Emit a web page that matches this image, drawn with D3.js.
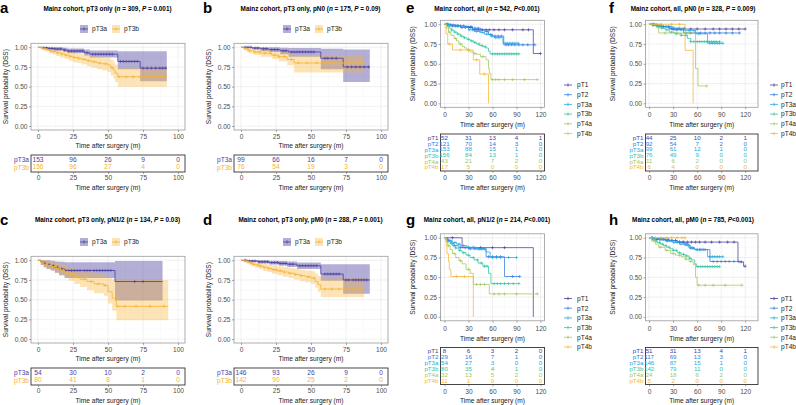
<!DOCTYPE html>
<html><head><meta charset="utf-8">
<script src="https://cdn.jsdelivr.net/npm/d3@7"></script>
<style>body{margin:0;background:#fff;}svg{display:block;}</style>
</head><body><div id="chart"></div>
<script>
// ---------------- DATA ----------------
const ad_ticks = [0, 25, 50, 75, 100];
const eh_ticks = [0, 30, 60, 90, 120];
const surv_ticks = [0, 0.25, 0.5, 0.75, 1];

// Panel a
const a_pT3a_time  = [0, 3, 7, 12, 18, 21, 33, 37, 57, 73, 92];
const a_pT3a_surv  = [1, 0.993, 0.985, 0.978, 0.965, 0.952, 0.93, 0.912, 0.82, 0.735, 0.735];
const a_pT3a_lower = [1, 0.98, 0.965, 0.955, 0.94, 0.925, 0.895, 0.87, 0.72, 0.57, 0.57];
const a_pT3a_upper = [1, 1, 1, 1, 0.995, 0.985, 0.97, 0.96, 0.95, 0.95, 0.95];
const a_pT3a_censor = [4,6,8,10,12,14,16,19,22,24,26,28,30,32,35,39,41,43,45,47,49,51,53,59,61,63,65,67,69,71,75,78,81,84,87,89,91];
const a_pT3b_time  = [0,2,4,6,8,10,13,16,19,22,25,28,31,35,38,42,46,50,52,54,55,57,92];
const a_pT3b_surv  = [1,0.99,0.98,0.97,0.955,0.945,0.93,0.915,0.9,0.885,0.87,0.86,0.845,0.83,0.815,0.8,0.79,0.775,0.74,0.71,0.67,0.625,0.625];
const a_pT3b_lower = [1,0.975,0.96,0.945,0.925,0.91,0.89,0.87,0.85,0.83,0.81,0.8,0.78,0.76,0.74,0.72,0.705,0.685,0.64,0.6,0.56,0.5,0.5];
const a_pT3b_upper = [1,1,1,0.995,0.985,0.98,0.97,0.96,0.95,0.94,0.93,0.92,0.91,0.9,0.89,0.88,0.87,0.86,0.84,0.81,0.78,0.75,0.75];
const a_pT3b_censor = [3,5,7,9,11,14,17,20,23,26,29,33,36,40,44,48,53,58,63,68,73,78,83,88];
const a_risk_pT3a = [153, 96, 26, 9, 0];
const a_risk_pT3b = [156, 96, 27, 4, 0];

// Panel b
const b_pT3a_time  = [0, 8, 14, 20, 28, 34, 57, 73, 92];
const b_pT3a_surv  = [1, 0.99, 0.98, 0.97, 0.955, 0.94, 0.86, 0.75, 0.75];
const b_pT3a_lower = [1, 0.97, 0.95, 0.94, 0.91, 0.88, 0.72, 0.56, 0.56];
const b_pT3a_upper = [1, 1, 1, 1, 0.995, 0.99, 0.98, 0.97, 0.97];
const b_pT3a_censor = [3,5,7,10,12,16,18,22,24,26,30,32,36,38,40,42,44,46,48,50,52,60,62,65,68,76,79,82,85,88,91];
const b_pT3b_time  = [0, 2, 4, 6, 9, 14, 22, 27, 33, 38, 88];
const b_pT3b_surv  = [1, 0.985, 0.97, 0.955, 0.94, 0.925, 0.9, 0.88, 0.845, 0.8, 0.8];
const b_pT3b_lower = [1, 0.96, 0.94, 0.92, 0.9, 0.88, 0.85, 0.82, 0.77, 0.68, 0.68];
const b_pT3b_upper = [1, 1, 1, 0.99, 0.98, 0.97, 0.955, 0.94, 0.92, 0.9, 0.9];
const b_pT3b_censor = [3,6,10,13,17,21,24,27,31,36,41,47,54,60,66,72,78,84,87];
const b_risk_pT3a = [99, 66, 16, 7, 0];
const b_risk_pT3b = [76, 54, 19, 3, 0];

// Panel c
const c_pT3a_time  = [0, 2, 4, 6, 9, 12, 15, 19, 55, 89];
const c_pT3a_surv  = [1, 0.98, 0.96, 0.945, 0.93, 0.91, 0.89, 0.87, 0.73, 0.73];
const c_pT3a_lower = [1, 0.94, 0.91, 0.89, 0.87, 0.84, 0.81, 0.775, 0.49, 0.49];
const c_pT3a_upper = [1, 1, 1, 1, 0.995, 0.985, 0.98, 0.975, 0.99, 0.99];
const c_pT3a_censor = [5,8,11,14,17,20,22,24,26,28,30,33,35,37,40,42,44,46,48,50,52,69,75];
const c_pT3b_time  = [0,2,4,7,10,13,16,19,22,26,30,35,40,47,50,53,56,93];
const c_pT3b_surv  = [1,0.975,0.95,0.935,0.92,0.9,0.875,0.85,0.82,0.79,0.76,0.73,0.7,0.68,0.6,0.52,0.415,0.415];
const c_pT3b_lower = [1,0.94,0.91,0.89,0.87,0.84,0.81,0.78,0.74,0.7,0.66,0.62,0.58,0.55,0.45,0.36,0.24,0.24];
const c_pT3b_upper = [1,1,1,0.99,0.98,0.965,0.95,0.93,0.91,0.89,0.87,0.85,0.83,0.81,0.78,0.76,0.75,0.75];
const c_pT3b_censor = [3,6,9,12,15,18,21,25,29,33,38,43,48,57,62,70,80,90];
const c_risk_pT3a = [54, 30, 10, 2, 0];
const c_risk_pT3b = [80, 41, 8, 1, 0];

// Panel d
const d_pT3a_time  = [0, 5, 12, 20, 27, 33, 40, 57, 73, 92];
const d_pT3a_surv  = [1, 0.99, 0.98, 0.97, 0.96, 0.95, 0.93, 0.825, 0.75, 0.75];
const d_pT3a_lower = [1, 0.98, 0.96, 0.945, 0.93, 0.915, 0.89, 0.74, 0.575, 0.575];
const d_pT3a_upper = [1, 1, 1, 0.995, 0.99, 0.985, 0.97, 0.95, 0.95, 0.95];
const d_pT3a_censor = [3,6,8,10,13,15,17,19,22,24,26,28,30,32,35,37,42,44,46,48,50,52,54,60,62,64,66,68,70,75,77,80,82,84,86,88,90];
const d_pT3b_time  = [0,2,4,6,8,10,13,16,19,22,26,30,34,38,42,46,50,53,55,57,88];
const d_pT3b_surv  = [1,0.99,0.98,0.965,0.95,0.94,0.925,0.91,0.895,0.88,0.865,0.85,0.835,0.82,0.805,0.79,0.775,0.73,0.69,0.635,0.635];
const d_pT3b_lower = [1,0.975,0.96,0.94,0.92,0.905,0.885,0.865,0.85,0.83,0.81,0.79,0.775,0.755,0.735,0.72,0.7,0.65,0.6,0.53,0.53];
const d_pT3b_upper = [1,1,1,0.99,0.98,0.975,0.965,0.955,0.945,0.935,0.925,0.915,0.905,0.895,0.88,0.87,0.86,0.83,0.8,0.77,0.77];
const d_pT3b_censor = [3,5,7,9,12,14,17,20,23,25,28,31,35,39,43,48,52,60,65,70,75,80,85];
const d_risk_pT3a = [146, 93, 26, 9, 0];
const d_risk_pT3b = [142, 90, 25, 2, 0];

// Panel e
const e_pT1_time = [0, 8, 20, 35, 111, 120];
const e_pT1_surv = [1, 0.98, 0.96, 0.93, 0.63, 0.63];
const e_pT1_censor = [4,10,14,17,22,26,30,33,38,42,47,52,56,62,68,75,85,98,105,120];
const e_pT2_time = [0,5,15,25,35,45,50,55,60,74,113];
const e_pT2_surv = [1,0.99,0.98,0.97,0.95,0.93,0.91,0.87,0.85,0.74,0.74];
const e_pT2_censor = [3,7,11,16,20,24,28,33,38,42,47,53,58,63,67,71,77,80,84,88,93,98,104,113];
const e_pT3a_time = [0,5,10,20,30,37,45,50,57,62,73,93];
const e_pT3a_surv = [1,0.99,0.98,0.96,0.93,0.91,0.895,0.875,0.85,0.83,0.76,0.76];
const e_pT3a_censor = [4,8,13,17,21,26,31,35,40,44,48,53,59,64,68,76,79,82,85,88,92];
const e_pT3b_time = [0,3,6,9,12,16,20,24,28,32,36,40,44,48,52,55,57,93];
const e_pT3b_surv = [1,0.975,0.95,0.925,0.9,0.875,0.85,0.83,0.81,0.79,0.77,0.75,0.73,0.715,0.7,0.66,0.625,0.625];
const e_pT3b_censor = [5,9,13,17,21,25,30,34,38,43,47,51,60,63,66,69,72,75,78,81,84,87,90,93];
const e_pT4a_time = [0,2,5,8,12,15,18,22,25,28,32,36,40,45,52,55,56,58,116];
const e_pT4a_surv = [1,0.95,0.9,0.86,0.82,0.79,0.75,0.72,0.7,0.675,0.65,0.63,0.62,0.59,0.55,0.44,0.38,0.3,0.3];
const e_pT4a_censor = [6,14,20,30,38,48,60,64,68,75,85,100,116];
const e_pT4b_time = [0,2,4,10,36,44,55];
const e_pT4b_surv = [1,0.88,0.75,0.675,0.55,0.37,0];
const e_pT4b_censor = [6,20,30,40,50];
const e_risk = {pT1:[52,31,13,4,1], pT2:[121,70,14,3,0], pT3a:[153,88,15,1,0], pT3b:[156,84,13,1,0], pT4a:[43,21,7,2,0], pT4b:[17,5,0,0,0]};

// Panel f
const f_pT1_time = [0, 10, 25, 120];
const f_pT1_surv = [1, 0.97, 0.94, 0.94];
const f_pT1_censor = [6,12,18,24,30,36,44,52,60,70,80,88,96,104,112,120];
const f_pT2_time = [0,5,15,25,30,43,113];
const f_pT2_surv = [1,0.99,0.97,0.95,0.93,0.89,0.89];
const f_pT2_censor = [5,10,15,22,28,34,40,46,52,58,64,70,76,82,88,96,104,113];
const f_pT3a_time = [0,8,18,30,45,58,73,92];
const f_pT3a_surv = [1,0.99,0.97,0.95,0.92,0.88,0.76,0.76];
const f_pT3a_censor = [4,9,14,20,26,32,38,44,50,56,62,76,79,82,85,88,92];
const f_pT3b_time = [0,5,10,15,20,25,32,40,48,52,88];
const f_pT3b_surv = [1,0.99,0.97,0.95,0.93,0.9,0.88,0.86,0.82,0.78,0.78];
const f_pT3b_censor = [5,10,16,22,28,34,40,46,52,56,60,63,66,69,72,75,78,81,84,88];
const f_pT4a_time = [0,12,58,61,72];
const f_pT4a_surv = [1,0.89,0.44,0.22,0.22];
const f_pT4a_censor = [20,35,50,72];
const f_pT4b_time = [0,45,55];
const f_pT4b_surv = [1,0.67,0];
const f_pT4b_censor = [15,28,38];
const f_risk = {pT1:[44,25,10,2,1], pT2:[92,54,7,2,0], pT3a:[99,61,12,1,0], pT3b:[76,49,9,0,0], pT4a:[11,6,2,0,0], pT4b:[6,4,0,0,0]};

// Panel g
const g_pT1_time = [0, 22, 111];
const g_pT1_surv = [1, 0.875, 0];
const g_pT1_censor = [10,30,45,60,75];
const g_pT2_time = [0,4,8,12,18,30,52,75,94];
const g_pT2_surv = [1,0.965,0.93,0.9,0.875,0.86,0.76,0.51,0.51];
const g_pT2_censor = [5,12,20,26,32,38,44,48,55,60,65,70,85,94];
const g_pT3a_time = [0,3,6,10,15,20,28,40,52,57,90];
const g_pT3a_surv = [1,0.98,0.96,0.94,0.92,0.9,0.88,0.86,0.82,0.75,0.75];
const g_pT3a_censor = [3,8,13,18,24,30,36,42,46,50,60,65,70,80,90];
const g_pT3b_time = [0,2,4,7,10,14,18,22,27,32,37,42,48,55,58,93];
const g_pT3b_surv = [1,0.975,0.95,0.925,0.9,0.87,0.84,0.81,0.78,0.75,0.72,0.68,0.64,0.55,0.42,0.42];
const g_pT3b_censor = [4,9,14,19,24,30,36,41,46,50,53,62,66,70,75,80,86,93];
const g_pT4a_time = [0,2,4,7,10,14,18,22,27,32,36,56,116];
const g_pT4a_surv = [1,0.95,0.9,0.85,0.8,0.75,0.71,0.67,0.6,0.55,0.41,0.29,0.29];
const g_pT4a_censor = [5,12,20,30,40,45,50,62,68,75,90,116];
const g_pT4b_time = [0,2,3,5,6,8,36];
const g_pT4b_surv = [1,0.9,0.8,0.7,0.6,0.51,0];
const g_pT4b_censor = [15,25];
const g_risk = {pT1:[8,6,3,2,0], pT2:[29,16,7,1,0], pT3a:[54,27,3,0,0], pT3b:[80,35,4,1,0], pT4a:[32,13,5,2,0], pT4b:[11,1,0,0,0]};

// Panel h
const h_pT1_time = [0,8,20,35,111,118,120];
const h_pT1_surv = [1,0.98,0.965,0.945,0.695,0.64,0.64];
const h_pT1_censor = [4,9,14,18,23,28,33,38,43,48,53,58,63,70,78,88,98,106,115,120];
const h_pT2_time = [0,5,15,25,35,45,50,57,76,112];
const h_pT2_surv = [1,0.99,0.98,0.965,0.945,0.92,0.87,0.85,0.7,0.7];
const h_pT2_censor = [3,7,11,16,20,24,29,33,38,42,47,52,55,60,63,66,70,80,85,90,95,100,106,112];
const h_pT3a_time = [0,5,12,20,30,38,45,52,57,73,92];
const h_pT3a_surv = [1,0.99,0.98,0.96,0.94,0.92,0.9,0.87,0.85,0.76,0.76];
const h_pT3a_censor = [4,8,13,17,22,26,31,35,40,44,49,54,60,64,68,76,79,82,85,88,92];
const h_pT3b_time = [0,3,6,10,14,18,22,26,30,35,40,45,50,53,57,59,88];
const h_pT3b_surv = [1,0.98,0.96,0.94,0.92,0.9,0.88,0.86,0.84,0.81,0.79,0.77,0.74,0.72,0.67,0.635,0.635];
const h_pT3b_censor = [5,9,13,17,21,25,30,34,38,43,47,51,61,64,67,70,73,76,79,82,85,88];
const h_pT4a_time = [0,3,8,12,20,27,33,40,45,50,55,58,60,116];
const h_pT4a_surv = [1,0.96,0.92,0.88,0.84,0.8,0.78,0.76,0.73,0.7,0.66,0.5,0.4,0.4];
const h_pT4a_censor = [6,14,22,30,38,46,52,62,70,80,95,116];
const h_pT4b_time = [0,45];
const h_pT4b_surv = [1,1];
const h_pT4b_censor = [8,15,22,28,35,41,45];
const h_risk = {pT1:[51,31,13,4,1], pT2:[117,69,13,3,0], pT3a:[146,87,15,1,0], pT3b:[142,79,11,0,0], pT4a:[24,18,6,2,0], pT4b:[5,2,0,0,0]};

const groups_ad = ["pT3a", "pT3b"];
const groups_eh = ["pT1", "pT2", "pT3a", "pT3b", "pT4a", "pT4b"];

// ---------------- STYLE ----------------
const FF = '"Liberation Sans", Arial, Helvetica, sans-serif';
const col_ad = {pT3a:"#4A3E9E", pT3b:"#F6B332"};
const col_eh = {pT1:"#4B3C9C", pT2:"#2F7BE0", pT3a:"#22A7E4", pT3b:"#33C3A0", pT4a:"#A3C85E", pT4b:"#F7B634"};
const FS = 6.6;
const FS_TITLE = 6.4;

const svg = d3.select("#chart").append("svg").attr("width",796).attr("height",405).attr("font-family",FF);
svg.append("rect").attr("width",796).attr("height",405).attr("fill","#fff");

function survAt(time, surv, t){ let v = surv[0]; for(let i=0;i<time.length;i++){ if(time[i] <= t) v = surv[i]; } return v; }

function addText(g, str, x, y, fs, opts={}){
  const t = g.append("text").attr("x",x).attr("y",y).attr("dy","0.35em")
    .attr("text-anchor", opts.anchor || "middle").attr("font-size",fs)
    .attr("fill", opts.fill || "#1a1a1a");
  if(opts.bold) t.attr("font-weight","bold");
  if(opts.rotate) t.attr("transform",`rotate(-90,${x},${y})`);
  str.split("*").forEach((p,i)=>{ if(!p) return; const s=t.append("tspan").text(p); if(i%2) s.attr("font-style","italic"); });
  return t;
}

function styleAxis(ax, fs){
  ax.select(".domain").remove();
  ax.selectAll(".tick line").attr("stroke","#555").attr("stroke-width",0.5);
  ax.selectAll(".tick text").attr("font-size",fs).attr("fill","#4d4d4d").attr("font-family",FF);
}

function drawPanel(cfg){
  const g = svg.append("g");
  const x = d3.scaleLinear().domain(cfg.xDomain).range([cfg.px0, cfg.px1]);
  const y = d3.scaleLinear().domain([-0.05, 1.05]).range([cfg.py1, cfg.py0]);
  const xt = cfg.xTicks;
  const xMinor = xt.slice(1).map((v,i)=>(v+xt[i])/2);
  const yMinor = surv_ticks.slice(1).map((v,i)=>(v+surv_ticks[i])/2);
  const gg = g.append("g");
  xMinor.forEach(v=>gg.append("line").attr("x1",x(v)).attr("x2",x(v)).attr("y1",cfg.py0).attr("y2",cfg.py1).attr("stroke","#f3f3f3").attr("stroke-width",0.4));
  yMinor.forEach(v=>gg.append("line").attr("y1",y(v)).attr("y2",y(v)).attr("x1",cfg.px0).attr("x2",cfg.px1).attr("stroke","#f3f3f3").attr("stroke-width",0.4));
  xt.forEach(v=>gg.append("line").attr("x1",x(v)).attr("x2",x(v)).attr("y1",cfg.py0).attr("y2",cfg.py1).attr("stroke","#e6e6e6").attr("stroke-width",0.6));
  surv_ticks.forEach(v=>gg.append("line").attr("y1",y(v)).attr("y2",y(v)).attr("x1",cfg.px0).attr("x2",cfg.px1).attr("stroke","#e6e6e6").attr("stroke-width",0.6));
  if(cfg.ci){
    cfg.curves.forEach(c=>{
      const pts = c.time.map((t,i)=>({t, lo:c.lower[i], hi:c.upper[i]}));
      g.append("path").attr("d", d3.area().x(d=>x(d.t)).y0(d=>y(d.lo)).y1(d=>y(d.hi)).curve(d3.curveStepAfter)(pts))
        .attr("fill", c.color).attr("fill-opacity", c.fillOp);
    });
  }
  cfg.curves.forEach(c=>{
    const pts = c.time.map((t,i)=>[t, c.surv[i]]);
    g.append("path").attr("d", d3.line().x(d=>x(d[0])).y(d=>y(d[1])).curve(d3.curveStepAfter)(pts))
      .attr("fill","none").attr("stroke",c.color).attr("stroke-width",cfg.lw);
    const h = 1.6;
    const dStr = c.censor.map(t=>{ const cx=x(t), cy=y(survAt(c.time,c.surv,t)); return `M${cx-h},${cy}H${cx+h}M${cx},${cy-h}V${cy+h}`; }).join("");
    g.append("path").attr("d", dStr).attr("stroke", c.color).attr("stroke-width",0.6).attr("fill","none");
  });
  g.append("rect").attr("x",cfg.px0).attr("y",cfg.py0).attr("width",cfg.px1-cfg.px0).attr("height",cfg.py1-cfg.py0)
    .attr("fill","none").attr("stroke","#9a9a9a").attr("stroke-width",0.8);
  const ay = g.append("g").attr("transform",`translate(${cfg.px0},0)`).call(d3.axisLeft(y).tickValues(surv_ticks).tickFormat(d3.format(".2f")).tickSize(2).tickPadding(1.5));
  styleAxis(ay, FS);
  const ax = g.append("g").attr("transform",`translate(0,${cfg.py1})`).call(d3.axisBottom(x).tickValues(xt).tickFormat(d3.format("d")).tickSize(2));
  styleAxis(ax, FS);
  ax.selectAll(".tick text").attr("y", cfg.xTickY - cfg.py1).attr("dy","0.35em");
  addText(g, "Time after surgery (m)", (cfg.px0+cfg.px1)/2, cfg.xTitleY, FS);
  addText(g, "Survival probability (DSS)", cfg.yLabelX, (cfg.py0+cfg.py1)/2, FS, {rotate:true});
  g.append("text").attr("x",cfg.letterX).attr("y",cfg.letterY).attr("font-size",15).attr("font-weight","bold").attr("fill","#000").text(cfg.letter);
  addText(g, cfg.title, cfg.titleX, cfg.titleY, FS_TITLE, {bold:true, fill:"#000"});
  if(cfg.legendTop){
    cfg.curves.forEach((c,i)=>{
      const lx = cfg.legendTop.icons[i], ly = cfg.legendTop.y;
      g.append("rect").attr("x",lx).attr("y",ly-4).attr("width",8).attr("height",8).attr("fill",c.color).attr("fill-opacity",c.fillOp);
      g.append("path").attr("d",`M${lx},${ly}H${lx+8}M${lx+4},${ly-1.6}V${ly+1.6}`).attr("stroke",c.color).attr("stroke-width",0.8);
      addText(g, c.name, lx+12, ly, FS, {anchor:"start"});
    });
  } else {
    const L = cfg.legendRight;
    cfg.curves.forEach((c,i)=>{
      const ly = L.y0 + i*L.dy;
      g.append("path").attr("d",`M${L.x},${ly}H${L.x+8}M${L.x+4},${ly-1.6}V${ly+1.6}`).attr("stroke",c.color).attr("stroke-width",0.8);
      addText(g, c.name, L.tx, ly, FS, {anchor:"start"});
    });
  }
  const T = cfg.table;
  g.append("rect").attr("x",cfg.px0).attr("y",T.y0).attr("width",cfg.px1-cfg.px0).attr("height",T.y1-T.y0)
    .attr("fill","none").attr("stroke","#333").attr("stroke-width",0.9);
  const rowScale = d3.scalePoint().domain(cfg.curves.map(c=>c.name)).range([T.r0, T.r1]);
  const ar = g.append("g").attr("transform",`translate(${cfg.px0},0)`).call(d3.axisLeft(rowScale).tickSize(0).tickPadding(2));
  ar.select(".domain").remove();
  ar.selectAll(".tick text").attr("font-size",T.fs).attr("font-family",FF).attr("fill",(d)=>cfg.curves.find(c=>c.name===d).color);
  cfg.curves.forEach(c=>{
    c.risk.forEach((n,i)=>{
      g.append("text").attr("x",x(xt[i])).attr("y",rowScale(c.name)).attr("dy","0.35em").attr("text-anchor","middle")
        .attr("font-size",T.fs).attr("fill",c.color).text(n);
    });
  });
  const at = g.append("g").attr("transform",`translate(0,${T.y1})`).call(d3.axisBottom(x).tickValues(xt).tickFormat(d3.format("d")).tickSize(2));
  styleAxis(at, FS);
  at.selectAll(".tick text").attr("y", T.tickY - T.y1).attr("dy","0.35em");
  addText(g, "Time after surgery (m)", (cfg.px0+cfg.px1)/2, T.titleY, FS);
}

const curvesAD = {
  a: [{name:"pT3a",color:col_ad.pT3a,time:a_pT3a_time,surv:a_pT3a_surv,lower:a_pT3a_lower,upper:a_pT3a_upper,censor:a_pT3a_censor,risk:a_risk_pT3a,fillOp:0.42},
      {name:"pT3b",color:col_ad.pT3b,time:a_pT3b_time,surv:a_pT3b_surv,lower:a_pT3b_lower,upper:a_pT3b_upper,censor:a_pT3b_censor,risk:a_risk_pT3b,fillOp:0.35}],
  b: [{name:"pT3a",color:col_ad.pT3a,time:b_pT3a_time,surv:b_pT3a_surv,lower:b_pT3a_lower,upper:b_pT3a_upper,censor:b_pT3a_censor,risk:b_risk_pT3a,fillOp:0.42},
      {name:"pT3b",color:col_ad.pT3b,time:b_pT3b_time,surv:b_pT3b_surv,lower:b_pT3b_lower,upper:b_pT3b_upper,censor:b_pT3b_censor,risk:b_risk_pT3b,fillOp:0.35}],
  c: [{name:"pT3a",color:col_ad.pT3a,time:c_pT3a_time,surv:c_pT3a_surv,lower:c_pT3a_lower,upper:c_pT3a_upper,censor:c_pT3a_censor,risk:c_risk_pT3a,fillOp:0.42},
      {name:"pT3b",color:col_ad.pT3b,time:c_pT3b_time,surv:c_pT3b_surv,lower:c_pT3b_lower,upper:c_pT3b_upper,censor:c_pT3b_censor,risk:c_risk_pT3b,fillOp:0.35}],
  d: [{name:"pT3a",color:col_ad.pT3a,time:d_pT3a_time,surv:d_pT3a_surv,lower:d_pT3a_lower,upper:d_pT3a_upper,censor:d_pT3a_censor,risk:d_risk_pT3a,fillOp:0.42},
      {name:"pT3b",color:col_ad.pT3b,time:d_pT3b_time,surv:d_pT3b_surv,lower:d_pT3b_lower,upper:d_pT3b_upper,censor:d_pT3b_censor,risk:d_risk_pT3b,fillOp:0.35}]
};
const ehData = {
  e: {pT1:[e_pT1_time,e_pT1_surv,e_pT1_censor], pT2:[e_pT2_time,e_pT2_surv,e_pT2_censor], pT3a:[e_pT3a_time,e_pT3a_surv,e_pT3a_censor], pT3b:[e_pT3b_time,e_pT3b_surv,e_pT3b_censor], pT4a:[e_pT4a_time,e_pT4a_surv,e_pT4a_censor], pT4b:[e_pT4b_time,e_pT4b_surv,e_pT4b_censor]},
  f: {pT1:[f_pT1_time,f_pT1_surv,f_pT1_censor], pT2:[f_pT2_time,f_pT2_surv,f_pT2_censor], pT3a:[f_pT3a_time,f_pT3a_surv,f_pT3a_censor], pT3b:[f_pT3b_time,f_pT3b_surv,f_pT3b_censor], pT4a:[f_pT4a_time,f_pT4a_surv,f_pT4a_censor], pT4b:[f_pT4b_time,f_pT4b_surv,f_pT4b_censor]},
  g: {pT1:[g_pT1_time,g_pT1_surv,g_pT1_censor], pT2:[g_pT2_time,g_pT2_surv,g_pT2_censor], pT3a:[g_pT3a_time,g_pT3a_surv,g_pT3a_censor], pT3b:[g_pT3b_time,g_pT3b_surv,g_pT3b_censor], pT4a:[g_pT4a_time,g_pT4a_surv,g_pT4a_censor], pT4b:[g_pT4b_time,g_pT4b_surv,g_pT4b_censor]},
  h: {pT1:[h_pT1_time,h_pT1_surv,h_pT1_censor], pT2:[h_pT2_time,h_pT2_surv,h_pT2_censor], pT3a:[h_pT3a_time,h_pT3a_surv,h_pT3a_censor], pT3b:[h_pT3b_time,h_pT3b_surv,h_pT3b_censor], pT4a:[h_pT4a_time,h_pT4a_surv,h_pT4a_censor], pT4b:[h_pT4b_time,h_pT4b_surv,h_pT4b_censor]}
};
const ehRisk = {e:e_risk, f:f_risk, g:g_risk, h:h_risk};
function curvesEH(k){ return groups_eh.map(n=>({name:n,color:col_eh[n],time:ehData[k][n][0],surv:ehData[k][n][1],censor:ehData[k][n][2],risk:ehRisk[k][n]})); }

const titles = {
  a:"Mainz cohort, pT3 only (*n* = 309, *P* = 0.001)",
  b:"Mainz cohort, pT3 only, pN0 (*n* = 175, *P* = 0.09)",
  c:"Mainz cohort, pT3 only, pN1/2 (*n* = 134, *P* = 0.03)",
  d:"Mainz cohort, pT3 only, pM0 (*n* = 288, *P* = 0.001)",
  e:"Mainz cohort, all (*n* = 542, *P*<0.001)",
  f:"Mainz cohort, all, pN0 (*n* = 328, *P* = 0.009)",
  g:"Mainz cohort, all, pN1/2 (*n* = 214, *P*<0.001)",
  h:"Mainz cohort, all, pM0 (*n* = 785, *P*<0.001)"
};

[["a",0,0],["b",203,0],["c",0,213],["d",203,213]].forEach(([k,ox,oy])=>{
  drawPanel({
    letter:k, letterX:ox, letterY:13+oy-(oy?1:0), title:titles[k], titleX:107.5+ox, titleY:9+oy-(oy?2:0),
    px0:31+ox, px1:185+ox, py0:43.3+oy, py1:130+oy, xDomain:[-5,105], xTicks:ad_ticks,
    yLabelX:5.5+ox, xTickY:136.5+oy, xTitleY:146+oy, ci:true, lw:0.8,
    curves:curvesAD[k],
    legendTop:{y:29+oy, icons:[80+ox,112+ox]},
    table:{y0:155+oy, y1:172+oy, r0:159.6+oy, r1:167+oy, fs:FS, tickY:177.5+oy, titleY:187.5+oy}
  });
});
[["e",0,0],["f",1,0],["g",0,213.5],["h",1,213.5]].forEach(([k,right,oy])=>{
  const P = right ? {px0:645.5, px1:758, xd:[-4.5,136], letterX:609, titleX:693, yl:613, lx:770, tx:781}
                  : {px0:440.5, px1:544.5, xd:[-5,125], letterX:406, titleX:487, yl:413, lx:564, tx:577};
  drawPanel({
    letter:k, letterX:P.letterX, letterY:13+oy-(oy?1.5:0), title:titles[k], titleX:P.titleX, titleY:9+oy-(oy?2.5:0),
    px0:P.px0, px1:P.px1, py0:20.3+oy, py1:107.3+oy, xDomain:P.xd, xTicks:eh_ticks,
    yLabelX:P.yl, xTickY:115+oy, xTitleY:125+oy, ci:false, lw:0.75,
    curves:curvesEH(k),
    legendRight:{x:P.lx, tx:P.tx, y0:85+oy, dy:9.7},
    table:{y0:134+oy, y1:171+oy, r0:137.5+oy, r1:167+oy, fs:6.2, tickY:178+oy, titleY:187.5+oy}
  });
});
</script>
</body></html>
